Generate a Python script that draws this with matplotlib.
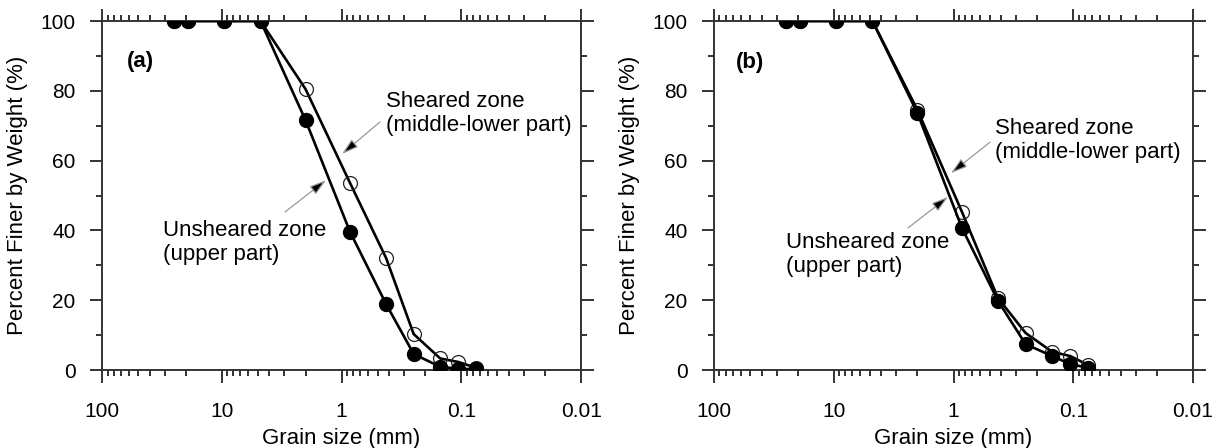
import matplotlib
matplotlib.use("Agg")
import matplotlib.pyplot as plt
from matplotlib.ticker import LogLocator, MultipleLocator, FuncFormatter, NullFormatter

plt.rcParams['font.family'] = ['Liberation Sans', 'DejaVu Sans']

# sieve sizes (mm)
sizes = [25, 19, 9.5, 4.75, 2.0, 0.85, 0.425, 0.25, 0.15, 0.106, 0.075]

# percent finer by weight (%)
a_unsheared = [100, 100, 100, 100, 71.6, 39.6, 18.9, 4.6, 0.9, 0.4, 0.2]
a_sheared = [100, 100, 100, 100, 80.5, 53.6, 32.1, 10.3, 3.3, 2.3, 0.6]
b_unsheared = [100, 100, 100, 100, 73.6, 40.7, 19.8, 7.4, 4.0, 1.7, 0.6]
b_sheared = [100, 100, 100, 100, 74.5, 45.3, 20.6, 10.6, 5.2, 4.0, 1.4]

x_ticks = [100, 10, 1, 0.1, 0.01]
x_ticklabels = ["100", "10", "1", "0.1", "0.01"]

# annotation anchors (grain size, percent)
a_notes = {"tag": (62, 88.5),
           "sh_text": (0.425, 73.4), "sh_tail": (0.477, 71.1), "sh_tip": (0.99, 61.9),
           "un_text": (31, 36.5), "un_tail": (2.96, 45.3), "un_tip": (1.35, 54.4)}
b_notes = {"tag": (66, 88.0),
           "sh_text": (0.45, 65.8), "sh_tail": (0.495, 65.3), "sh_tip": (1.05, 56.4),
           "un_text": (25, 33.1), "un_tail": (2.4, 40.7), "un_tip": (1.11, 49.6)}

spine_col = "#333333"
fs_tick = 15
fs_text = 16

fig = plt.figure(figsize=(12.19, 4.48), dpi=100)
ax_a = fig.add_axes([0.0837, 0.1741, 0.393, 0.779])
ax_b = fig.add_axes([0.5857, 0.1741, 0.393, 0.779])


def draw_panel(ax, unsheared, sheared, tag, notes):
    ax.plot(sizes, sheared, '-o', color='black', lw=1.9, markersize=10,
            markerfacecolor='none', markeredgecolor='#222222', markeredgewidth=0.9, zorder=3)
    ax.plot(sizes, unsheared, '-o', color='black', lw=1.9, markersize=10,
            markerfacecolor='black', markeredgecolor='black', zorder=4)

    ax.set_xscale('log')
    ax.set_xlim(100, 0.01)
    ax.set_ylim(0, 100)

    ax.xaxis.set_major_locator(LogLocator(base=10, numticks=10))
    ax.xaxis.set_minor_locator(LogLocator(base=10, subs=range(2, 10), numticks=20))
    ax.xaxis.set_major_formatter(FuncFormatter(
        lambda v, p: x_ticklabels[x_ticks.index(v)] if v in x_ticks else ""))
    ax.xaxis.set_minor_formatter(NullFormatter())
    ax.yaxis.set_major_locator(MultipleLocator(20))
    ax.yaxis.set_minor_locator(MultipleLocator(10))

    for s in ax.spines.values():
        s.set_linewidth(1.4)
        s.set_color(spine_col)
    ax.tick_params(which='both', direction='out', top=True, right=True,
                   color=spine_col, width=1.4, labelsize=fs_tick)
    ax.tick_params(which='major', length=9)
    ax.tick_params(which='minor', length=4.5)
    ax.tick_params(axis='x', which='major', pad=14)
    ax.tick_params(axis='y', which='major', pad=10)

    ax.set_xlabel("Grain size (mm)", fontsize=fs_text, labelpad=5)
    ax.set_ylabel("Percent Finer by Weight (%)", fontsize=fs_text, labelpad=9)

    ax.text(*notes["tag"], tag, fontsize=fs_text, fontweight='bold', ha='left', va='center')

    ax.text(*notes["sh_text"], "Sheared zone\n(middle-lower part)", fontsize=fs_text,
            ha='left', va='center')
    ax.text(*notes["un_text"], "Unsheared zone\n(upper part)", fontsize=fs_text,
            ha='left', va='center')
    for k in ("sh", "un"):
        ax.annotate('', xy=notes[k + "_tip"], xytext=notes[k + "_tail"],
                    arrowprops=dict(arrowstyle='-|>,head_length=1.0,head_width=0.3',
                                    edgecolor='#999999', facecolor='black', lw=0.9,
                                    shrinkA=0, shrinkB=0), zorder=5)


draw_panel(ax_a, a_unsheared, a_sheared, "(a)", a_notes)
draw_panel(ax_b, b_unsheared, b_sheared, "(b)", b_notes)

fig.savefig("out.png", dpi=100)
